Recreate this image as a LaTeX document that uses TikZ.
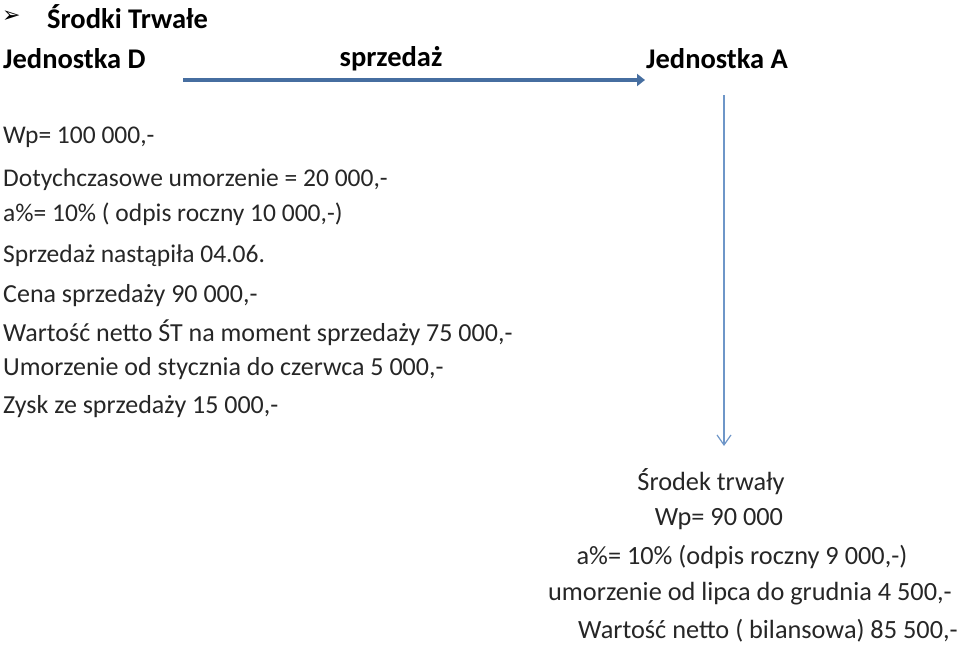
\documentclass[tikz,border=0pt]{standalone}
\usepackage{fontspec}
\setmainfont{Carlito}
\newfontfamily\symf{DejaVu Sans}
\usetikzlibrary{arrows.meta}
\begin{document}
\begin{tikzpicture}[x=1pt,y=-1pt,
  hd/.style={font=\fontsize{28.5}{32}\selectfont\bfseries,inner sep=0pt},
  sm/.style={font=\fontsize{25.5}{30}\selectfont,anchor=west,inner sep=0pt,text=black!85},
  lg/.style={font=\fontsize{26}{30}\selectfont,anchor=west,inner sep=0pt,text=black!85},
  rt/.style={font=\fontsize{26.3}{30}\selectfont,inner sep=0pt,text=black!85}]
\useasboundingbox (0,0) rectangle (960,645);
\node[anchor=west,inner sep=0pt] (bul) at (2,17) {\symf\fontsize{22}{24}\selectfont ➢};
\node[hd,anchor=west] (t) at (47,17) {Środki Trwałe};
\node[hd,anchor=west] (d) at (3,59) {Jednostka D};
\node[hd] (s) at (391,59) {sprzedaż};
\node[hd,anchor=west] (a) at (646,59) {Jednostka A};
\coordinate (h1) at (183,80); \coordinate (h2) at (645,80);
\draw[line width=4.5pt,color={rgb,255:red,70;green,110;blue,160},-{Triangle[length=8pt,width=12pt]}] (h1) -- (h2);
\coordinate (v1) at (724,95); \coordinate (v2) at (724,446);
\draw[line width=1.2pt,color={rgb,255:red,110;green,150;blue,200},-{Straight Barb[length=10pt,width=14pt]}] (v1) -- (v2);
\node[sm] (l1) at (3,137) {Wp= 100 000,-};
\node[sm] (l2) at (3,180) {Dotychczasowe umorzenie = 20 000,-};
\node[sm] (l3) at (3,214) {a\%= 10\% ( odpis roczny 10 000,-)};
\node[sm] (l4) at (3,256) {Sprzedaż nastąpiła 04.06.};
\node[lg] (l5) at (3,296) {Cena sprzedaży 90 000,-};
\node[lg] (l6) at (3,333) {Wartość netto ŚT na moment sprzedaży 75 000,-};
\node[lg] (l7) at (3,369) {Umorzenie od stycznia do czerwca 5 000,-};
\node[lg] (l8) at (3,407) {Zysk ze sprzedaży 15 000,-};
\node[rt] (r1) at (711,482) {Środek trwały};
\node[rt] (r2) at (719,519) {Wp= 90 000};
\node[rt] (r3) at (742,557) {a\%= 10\% (odpis roczny 9 000,-)};
\node[rt] (r4) at (750,594) {umorzenie od lipca do grudnia 4 500,-};
\node[rt] (r5) at (768,631) {Wartość netto ( bilansowa) 85 500,-};
\end{tikzpicture}
\end{document}
